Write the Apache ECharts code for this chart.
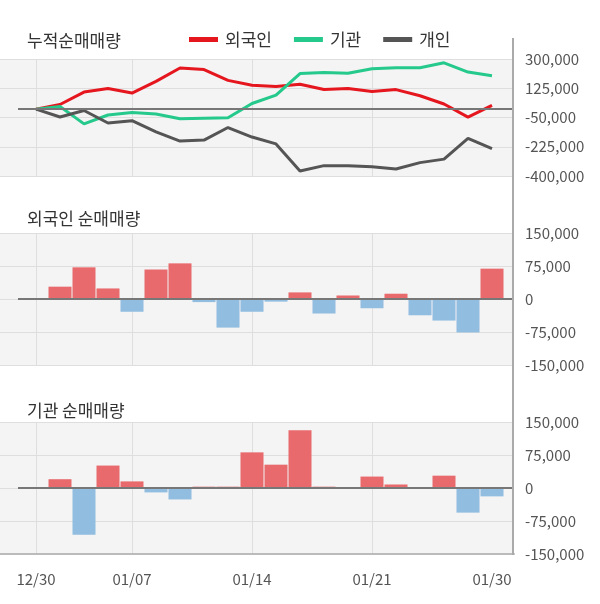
<!DOCTYPE html>
<html><head><meta charset="utf-8">
<script src="https://cdn.jsdelivr.net/npm/echarts@6/dist/echarts.min.js"></script>
<style>html,body{margin:0;padding:0;background:#fff}#c{width:600px;height:604px}</style>
</head><body><div id="c"></div>
<script>
var dates = ['12/30','01/02','01/03','01/06','01/07','01/08','01/09','01/10','01/13','01/14','01/15','01/16','01/17','01/20','01/21','01/22','01/23','01/28','01/29','01/30'];
var foreignCum = [0, 28000, 102000, 124000, 96000, 166000, 246000, 237000, 172000, 143000, 136000, 149000, 117000, 124000, 105000, 117000, 80000, 31000, -48000, 22000];
var instCum = [0, 16000, -88000, -35000, -20000, -29000, -57000, -54000, -52000, 34000, 84000, 213000, 219000, 215000, 242000, 248000, 248000, 277000, 222000, 200000];
var indivCum = [0, -47000, -8000, -83000, -69000, -136000, -191000, -185000, -110000, -167000, -208000, -370000, -338000, -338000, -344000, -358000, -320000, -299000, -175000, -236000];
var foreignDaily = [0, 28000, 72000, 24000, -29000, 67000, 81000, -7000, -65000, -29000, -6000, 15000, -33000, 8000, -21000, 12000, -37000, -49000, -76000, 69000];
var instDaily = [0, 20000, -106000, 51000, 15000, -10000, -26000, 3000, 3000, 81000, 53000, 131000, 3000, 0, 26000, 8000, 0, 28000, -56000, -19000];
var gridIdx = [0, 4, 9, 14];
var labelIdx = [0, 4, 9, 14, 19];
var topTicks = [-400000, 300000, 175000];
var barTicks = [-150000, 150000, 75000];

var FONT = 'Noto Sans CJK KR';
var XMIN = -1.5, XMAX = 478/24;
function pairs(arr){ return arr.map(function(v,i){ return [i, v]; }); }
function barPairs(arr, pos){ return arr.map(function(v,i){ return (pos ? v>0 : v<0) ? [i, v] : [i, null]; }); }
function fmt(v){ return v.toLocaleString('en-US'); }

function xAxis(gi, showLabel){
  return {
    type:'value', gridIndex:gi, min:XMIN, max:XMAX,
    axisLine:{show:showLabel, onZero:false, lineStyle:{color:'#bbb', width:2}},
    axisTick:{show:false, customValues:gridIdx},
    splitLine:{show:true, lineStyle:{color:'#dedede', width:1}},
    axisLabel:{show:showLabel, customValues:labelIdx, formatter:function(v){ return dates[Math.round(v)] || ''; },
      color:'#555', fontSize:15, fontFamily:FONT, margin:18}
  };
}
function yAxis(gi, t){
  return {
    type:'value', gridIndex:gi, position:'right', min:t[0], max:t[1], interval:t[2],
    axisLine:{show:false}, axisTick:{show:false},
    splitLine:{show:true, lineStyle:{color:'#dedede', width:1}},
    axisLabel:{color:'#555', fontSize:15, fontFamily:FONT, margin:11, formatter:fmt}
  };
}
function zeroLine(){
  return {silent:true, symbol:['none','none'], label:{show:false}, animation:false,
    lineStyle:{color:'#777', width:2, type:'solid'},
    data:[[{coord:[-0.75,0]},{coord:[XMAX,0]}]]};
}
function lineS(name, data, color, withZero){
  var s = {name:name, type:'line', xAxisIndex:0, yAxisIndex:0, data:pairs(data), symbol:'none',
    lineStyle:{color:color, width:3}, itemStyle:{color:color}, z:3};
  if (withZero) s.markLine = zeroLine();
  return s;
}
function barS(gi, data, pos, withZero){
  var s = {type:'bar', xAxisIndex:gi, yAxisIndex:gi, data:barPairs(data, pos), barWidth:23, barGap:'-100%',
    itemStyle:{color: pos ? '#e96a6d' : '#90bde0'}};
  if (withZero) s.markLine = zeroLine();
  return s;
}

var chart = echarts.init(document.getElementById('c'), null, {renderer:'canvas'});
chart.setOption({
  animation:false,
  backgroundColor:'#fff',
  textStyle:{fontFamily:FONT},
  title:[
    {text:'누적순매매량', left:22, top:27, textStyle:{fontSize:17, fontWeight:'normal', color:'#333', fontFamily:FONT}},
    {text:'외국인 순매매량', left:22, top:205, textStyle:{fontSize:17, fontWeight:'normal', color:'#333', fontFamily:FONT}},
    {text:'기관 순매매량', left:22, top:397, textStyle:{fontSize:17, fontWeight:'normal', color:'#333', fontFamily:FONT}}
  ],
  legend:{left:184, top:26, icon:'rect', itemWidth:29, itemHeight:5, itemGap:22,
    textStyle:{fontSize:17, color:'#333', fontFamily:FONT, padding:[0,0,0,2]},
    data:['외국인','기관','개인']},
  grid:[
    {left:0, right:86, top:59, height:117, show:true, backgroundColor:'#f4f4f4', borderWidth:0},
    {left:0, right:86, top:233, height:132, show:true, backgroundColor:'#f4f4f4', borderWidth:0},
    {left:0, right:86, top:422, height:132, show:true, backgroundColor:'#f4f4f4', borderWidth:0}
  ],
  xAxis:[xAxis(0,false), xAxis(1,false), xAxis(2,true)],
  yAxis:[yAxis(0,topTicks), yAxis(1,barTicks), yAxis(2,barTicks)],
  graphic:[{type:'line', shape:{x1:513, y1:38, x2:513, y2:555}, style:{stroke:'#aaa', lineWidth:2}, z:100}],
  series:[
    lineS('외국인', foreignCum, '#e5161e', true),
    lineS('기관', instCum, '#25c98b', false),
    lineS('개인', indivCum, '#555555', false),
    barS(1, foreignDaily, true, true),
    barS(1, foreignDaily, false, false),
    barS(2, instDaily, true, true),
    barS(2, instDaily, false, false)
  ]
});
</script></body></html>
